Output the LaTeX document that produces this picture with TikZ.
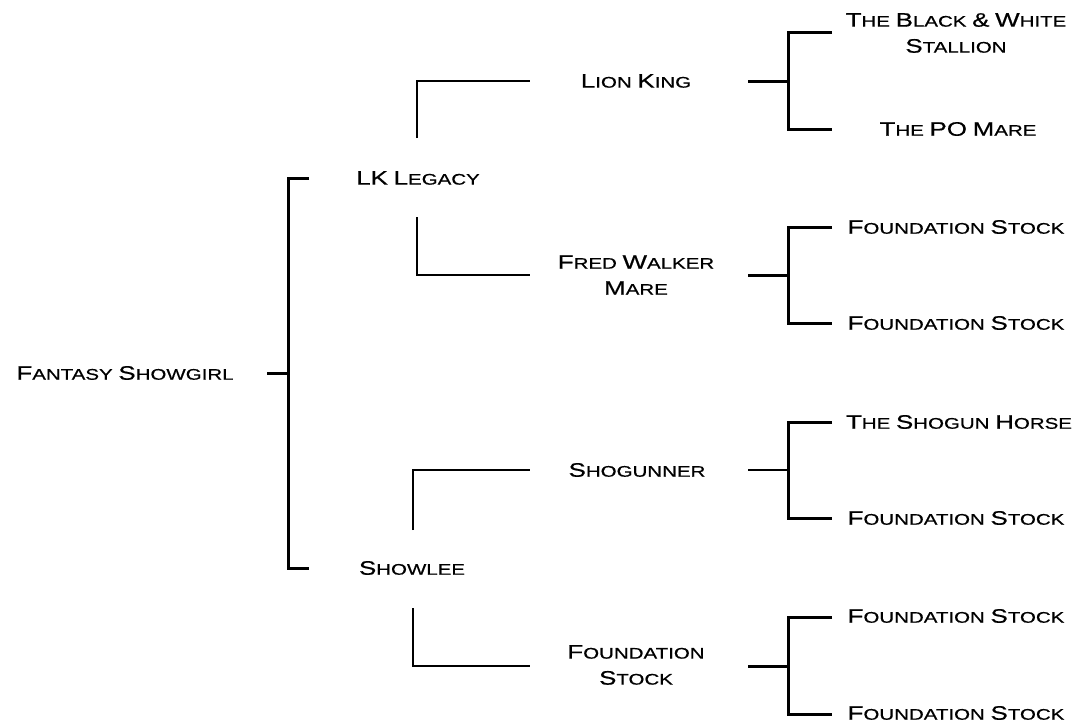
\documentclass[tikz,border=0pt]{standalone}
\usepackage{fontspec}
\setmainfont{Liberation Sans}[FakeStretch=1.33, FakeBold=0.6]
\usetikzlibrary{positioning}

\newcommand\Cap[1]{{\fontsize{19.5}{26}\selectfont#1}}

\begin{document}
\begin{tikzpicture}[x=1pt, y=-1pt,
    horse/.style={font=\fontsize{15.4}{26}\selectfont, align=center, inner sep=0pt},
    bar/.style={line width=3pt, line join=miter},
    elbow/.style={line width=2.6pt, line join=miter},
    thinbar/.style={line width=1.3pt}]
            \useasboundingbox[fill=white] (0,0) rectangle (1077,726);

            % Names, generation by generation
            \node[horse] (fs) at (125,373) {\Cap FANTASY \Cap SHOWGIRL};

            \node[horse] (lk) at (418,178) {\Cap L\Cap K \Cap LEGACY};
            \node[horse] (sl) at (412,568) {\Cap SHOWLEE};

            \node[horse] (lion) at (636,81) {\Cap LION \Cap KING};
            \node[horse] (fred) at (636,275) {\Cap FRED \Cap WALKER\\\Cap MARE};
            \node[horse] (shog) at (637,470) {\Cap SHOGUNNER};
            \node[horse] (fstk) at (636,665) {\Cap FOUNDATION\\\Cap STOCK};

            \node[horse] (bw) at (956,33) {\Cap THE \Cap BLACK \Cap{\&} \Cap WHITE\\\Cap STALLION};
            \node[horse] (po) at (958,129) {\Cap THE \Cap P\Cap O \Cap MARE};
            \node[horse] (f1) at (956,227) {\Cap FOUNDATION \Cap STOCK};
            \node[horse] (f2) at (956,323) {\Cap FOUNDATION \Cap STOCK};
            \node[horse] (sh) at (959,422) {\Cap THE \Cap SHOGUN \Cap HORSE};
            \node[horse] (f3) at (956,518) {\Cap FOUNDATION \Cap STOCK};
            \node[horse] (f4) at (956,616) {\Cap FOUNDATION \Cap STOCK};
            \node[horse] (f5) at (956,713) {\Cap FOUNDATION \Cap STOCK};

            % Line ends next to the names
            \coordinate (fs-r) at (267,373);  \coordinate (fs-j) at (288,373);
            \coordinate (lk-l) at (309,178);  \coordinate (sl-l) at (309,568);
            \coordinate (lk-u) at (417,138);  \coordinate (lk-d) at (417,217);
            \coordinate (sl-u) at (413,530);  \coordinate (sl-d) at (413,608);
            \coordinate (lion-l) at (530,81); \coordinate (fred-l) at (530,275);
            \coordinate (shog-l) at (530,470);\coordinate (fstk-l) at (530,666);
            \coordinate (lion-r) at (748,81); \coordinate (lion-j) at (788,81);
            \coordinate (fred-r) at (748,275);\coordinate (fred-j) at (788,275);
            \coordinate (shog-r) at (748,470);\coordinate (shog-j) at (788,470);
            \coordinate (fstk-r) at (748,666);\coordinate (fstk-j) at (788,666);
            \coordinate (bw-l) at (832,32);   \coordinate (po-l) at (832,129);
            \coordinate (f1-l) at (832,227);  \coordinate (f2-l) at (832,323);
            \coordinate (sh-l) at (832,422);  \coordinate (f3-l) at (832,518);
            \coordinate (f4-l) at (832,617);  \coordinate (f5-l) at (832,714);

            % First bracket
            \draw[bar] (fs-r) -- (fs-j);
            \draw[bar] (lk-l) -| (fs-j) |- (sl-l);

            % Parents to grandparents
            \draw[elbow] (lk-u) |- (lion-l);
            \draw[elbow] (lk-d) |- (fred-l);
            \draw[elbow] (sl-u) |- (shog-l);
            \draw[elbow] (sl-d) |- (fstk-l);

            % Great grandparents
            \draw[bar] (lion-r) -- (lion-j);
            \draw[bar] (bw-l) -| (lion-j) |- (po-l);
            \draw[bar] (fred-r) -- (fred-j);
            \draw[bar] (f1-l) -| (fred-j) |- (f2-l);
            \draw[thinbar] (shog-r) -- (shog-j);
            \draw[bar] (sh-l) -| (shog-j) |- (f3-l);
            \draw[bar] (fstk-r) -- (fstk-j);
            \draw[bar] (f4-l) -| (fstk-j) |- (f5-l);
        \end{tikzpicture}
\end{document}
